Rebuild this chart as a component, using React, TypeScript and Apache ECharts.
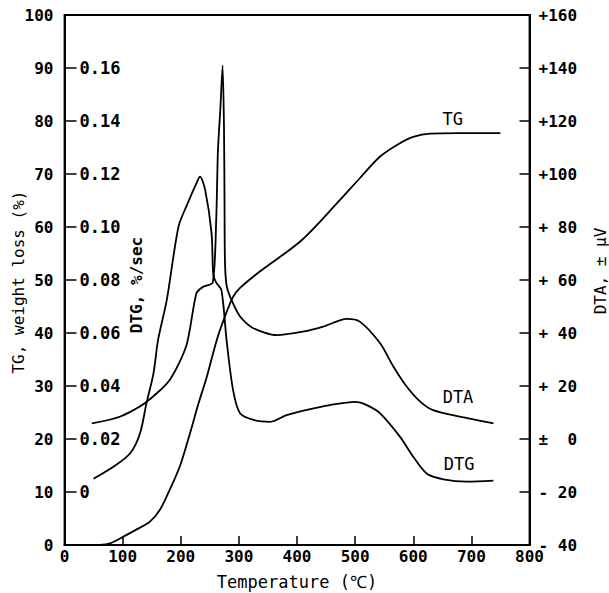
import React, { useEffect, useRef } from "react";
import * as echarts from "echarts";

// Temperature (°C) and TG weight loss (%)
const tgTemp = [60, 78, 100, 125, 147, 165, 181, 199, 216, 230, 245, 262, 275, 290, 302, 336, 408, 474, 508, 543, 577, 600, 629, 680, 750];
const tgVal = [0, 0.3, 1.5, 3.0, 4.4, 6.8, 10.4, 15, 21.1, 26.5, 31.8, 38.7, 42.8, 46.8, 48.5, 51.6, 57.5, 65.1, 69.2, 73.3, 75.8, 77.0, 77.6, 77.7, 77.7];

// DTA (± μV)
const dtaTemp = [47, 95, 138, 181, 210, 227, 239, 255, 261, 264, 268, 272, 274.4, 275.3, 276, 278.7, 285, 302, 324, 365, 410, 445, 485, 508, 543, 566, 589, 612, 634, 680, 738];
const dtaVal = [5.9, 8.4, 13.5, 22.3, 35.5, 55, 57.5, 59, 82.6, 109, 124, 141, 117.4, 90, 67.5, 58.1, 53.6, 46.2, 41.9, 39.2, 40.5, 42.4, 45.3, 44.3, 36.1, 27.3, 19.7, 14.1, 10.9, 8.4, 5.9];

// DTG (%/sec)
const dtgTemp = [50, 84, 113, 130, 141, 153, 161, 176, 196, 210, 230, 233, 242, 253, 256, 261, 270, 279, 290, 302, 325, 354, 382, 417, 457, 500, 520, 543, 577, 600, 623, 652, 692, 738];
const dtgVal = [0.005, 0.0095, 0.0146, 0.0222, 0.0335, 0.0447, 0.0574, 0.0725, 0.100, 0.108, 0.118, 0.119, 0.114, 0.0976, 0.082, 0.079, 0.0762, 0.057, 0.0385, 0.0297, 0.0272, 0.0265, 0.029, 0.031, 0.0328, 0.034, 0.0328, 0.0297, 0.0209, 0.0133, 0.007, 0.0048, 0.0039, 0.0043];

// Tick labels
const dtaTickValues = [160, 140, 120, 100, 80, 60, 40, 20, 0, -20, -40];
const dtaTickLabels = ["+160", "+140", "+120", "+100", "+ 80", "+ 60", "+ 40", "+ 20", "±  0", "- 20", "- 40"];

// Curve annotations [temperature, value on the curve's own axis]
const tgNote = [668, 80.4];
const dtaNote = [677, 15.8];
const dtgNote = [679, 0.0106];

const FONT = "DejaVu Sans Mono";

function zip(xs: number[], ys: number[]) {
  return xs.map((x, i) => [x, ys[i]]);
}

function note(text: string, coord: number[]) {
  return {
    symbol: "circle",
    symbolSize: 1,
    silent: true,
    itemStyle: { color: "rgba(0,0,0,0)" },
    label: { show: true, position: "inside", formatter: text, color: "#000", fontFamily: FONT, fontSize: 17 },
    data: [{ coord }],
  };
}

export default function App() {
  const ref = useRef<HTMLDivElement>(null);
  useEffect(() => {
    const chart = echarts.init(ref.current!, null, { renderer: "svg" });
    const lineStyle = { color: "#000", width: 1.8 };
    const labelBase = { color: "#000", fontFamily: FONT, fontWeight: "bold" as const };
    chart.setOption({
      animation: false,
      backgroundColor: "#fff",
      grid: { left: 64.5, right: 79.5, top: 15, bottom: 48, show: true, borderColor: "#000", borderWidth: 1.8 },
      xAxis: {
        type: "value",
        min: 0,
        max: 800,
        interval: 100,
        axisLine: { lineStyle: { color: "#000", width: 2 } },
        axisTick: { inside: true, length: 9, lineStyle: { color: "#000", width: 1.5 } },
        axisLabel: { ...labelBase, fontSize: 16, margin: 3 },
        splitLine: { show: false },
      },
      yAxis: [
        {
          type: "value",
          position: "left",
          min: 0,
          max: 100,
          interval: 10,
          axisLine: { show: true, lineStyle: { color: "#000", width: 2 } },
          axisTick: { show: false },
          axisLabel: { ...labelBase, fontSize: 16, margin: 11 },
          splitLine: { show: false },
        },
        {
          type: "value",
          position: "left",
          min: -0.02,
          max: 0.18,
          interval: 0.02,
          axisLine: { show: false },
          axisTick: { show: true, inside: true, length: 12, lineStyle: { color: "#000", width: 1.5 } },
          axisLabel: {
            ...labelBase,
            inside: true,
            margin: 15,
            fontSize: 17,
            formatter: (v: number) => (v < -0.001 || v > 0.171 ? "" : Math.abs(v) < 1e-9 ? "0" : v.toFixed(2)),
          },
          splitLine: { show: false },
        },
        {
          type: "value",
          position: "right",
          min: -40,
          max: 160,
          interval: 20,
          axisLine: { show: true, lineStyle: { color: "#000", width: 2 } },
          axisTick: { show: true, inside: true, length: 10, lineStyle: { color: "#000", width: 1.5 } },
          axisLabel: {
            ...labelBase,
            fontSize: 16,
            margin: 9,
            align: "left",
            formatter: (v: number) => {
              const i = dtaTickValues.findIndex((t) => Math.abs(t - v) < 1e-6);
              return i >= 0 ? dtaTickLabels[i] : "";
            },
          },
          splitLine: { show: false },
        },
      ],
      graphic: [
        { type: "text", x: 18, y: 282, rotation: Math.PI / 2, style: { text: "TG, weight loss (%)", fill: "#000", font: `16px "${FONT}"`, align: "center", verticalAlign: "middle" } },
        { type: "text", x: 136, y: 285, rotation: Math.PI / 2, style: { text: "DTG, %/sec", fill: "#000", font: `bold 16px "${FONT}"`, align: "center", verticalAlign: "middle" } },
        { type: "text", x: 600, y: 271, rotation: Math.PI / 2, style: { text: "DTA, ± μV", fill: "#000", font: `16px "${FONT}"`, align: "center", verticalAlign: "middle" } },
        { type: "text", x: 297, y: 582, style: { text: "Temperature (℃)", fill: "#000", font: `17px "${FONT}"`, align: "center", verticalAlign: "middle" } },
      ],
      series: [
        {
          name: "TG",
          type: "line",
          yAxisIndex: 0,
          data: zip(tgTemp, tgVal),
          showSymbol: false,
          smooth: 0.3,
          lineStyle,
          markPoint: note("TG", tgNote),
        },
        {
          name: "DTG",
          type: "line",
          yAxisIndex: 1,
          data: zip(dtgTemp, dtgVal),
          showSymbol: false,
          smooth: 0.3,
          lineStyle,
          markPoint: note("DTG", dtgNote),
        },
        {
          name: "DTA",
          type: "line",
          yAxisIndex: 2,
          data: zip(dtaTemp, dtaVal),
          showSymbol: false,
          smooth: 0.25,
          lineStyle,
          markPoint: note("DTA", dtaNote),
        },
      ],
    });
    return () => chart.dispose();
  }, []);
  return <div ref={ref} style={{ position: "absolute", left: 0, top: 0, width: 609, height: 593 }} />;
}
